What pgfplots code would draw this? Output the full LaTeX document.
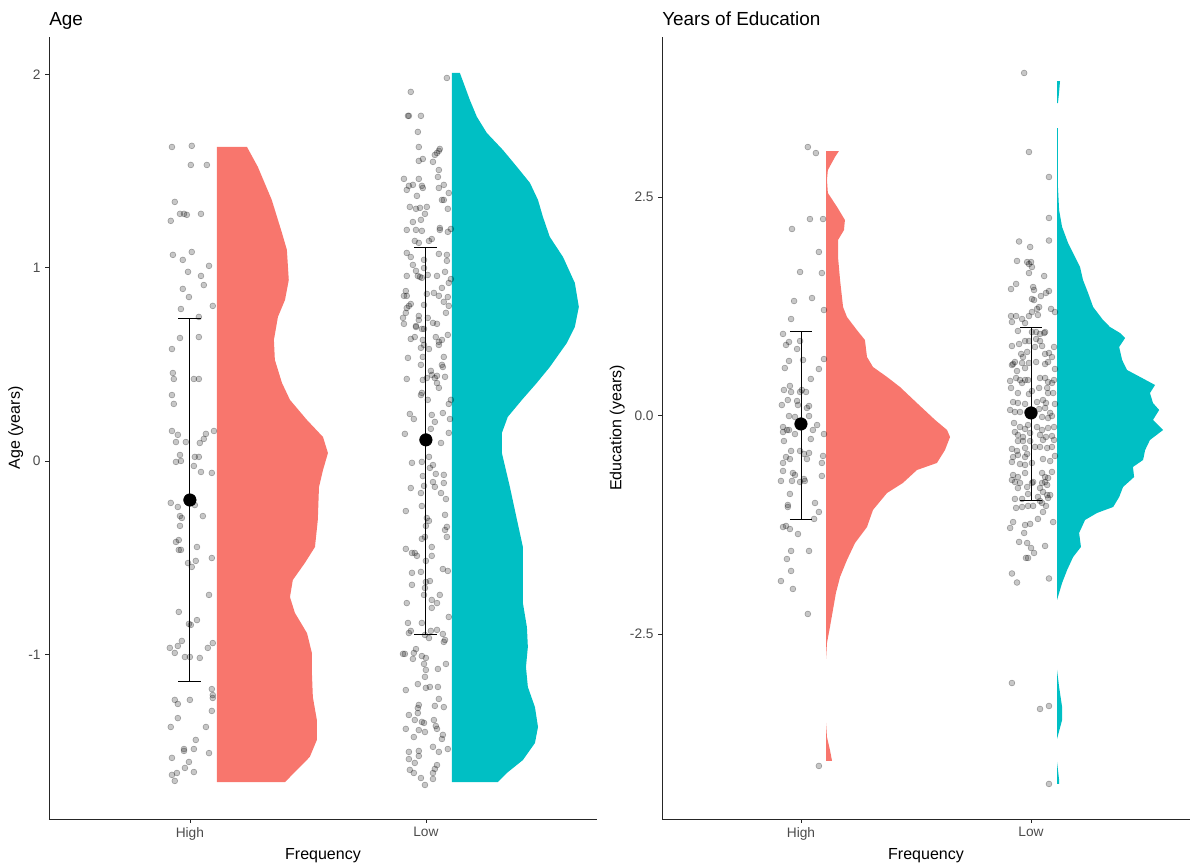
\documentclass[border=0pt]{standalone}
\usepackage{fontspec}
\setmainfont{Liberation Sans}
\usepackage{pgfplots}
\pgfplotsset{compat=1.18}
\definecolor{vred}{HTML}{F8766D}
\definecolor{vcyan}{HTML}{00BFC4}
\pgfplotsset{
  rainstyle/.style={
    scale only axis,
    anchor=south west,
    axis x line*=bottom, axis y line*=left,
    axis line style={-, black!85, line width=0.6pt},
    tick align=outside,
    major tick length=2.75pt,
    tick style={black!85, line width=0.5pt},
    ticklabel style={font=\fontsize{10.3}{11}\selectfont, text=black!70},
    label style={font=\fontsize{12}{14}\selectfont},
    ylabel style={yshift=-3pt},
    xlabel style={yshift=1pt},
    title style={at={(0,1)}, anchor=base west, yshift=2.5pt, inner sep=0pt, font=\fontsize{14.2}{16}\selectfont},
    xtick={1,2}, xticklabels={High,Low},
    xlabel={Frequency},
    clip=false,
  },
  jit/.style={only marks, mark=*, mark size=2.2pt,
    mark options={draw=black, fill=black, draw opacity=0.3, fill opacity=0.22, line width=0.45pt}},
  eb/.style={black, line width=0.65pt, mark=none},
}
\begin{document}
\begin{tikzpicture}
\path[use as bounding box] (0,0) rectangle (894pt,647.25pt);
% ---------------- Left: Age ----------------
\begin{axis}[rainstyle,
  at={(36.75pt,33pt)}, width=411pt, height=586.5pt,
  xmin=0.403, xmax=2.725, ymin=-1.852, ymax=2.193,
  ytick={-1,0,1,2}, yticklabels={-1,0,1,2},
  ylabel={Age (years)}, title={Age}]
\addplot[fill=vred, draw=none] coordinates {
(1.114,1.624) (1.242,1.624) (1.288,1.521) (1.347,1.350) (1.390,1.180) (1.411,1.092) (1.419,0.936) (1.403,0.833) (1.373,0.745) (1.356,0.626) (1.360,0.523) (1.390,0.404) (1.424,0.316) (1.496,0.212) (1.564,0.124) (1.585,0.041) (1.564,-0.047) (1.547,-0.135) (1.542,-0.305) (1.530,-0.445) (1.487,-0.528) (1.436,-0.616) (1.424,-0.704) (1.445,-0.786) (1.496,-0.890) (1.517,-0.993) (1.517,-1.097) (1.521,-1.221) (1.538,-1.340) (1.538,-1.443) (1.508,-1.531) (1.453,-1.599) (1.403,-1.661) (1.114,-1.661)} -- cycle;
\addplot[fill=vcyan, draw=none] coordinates {
(2.110,2.007) (2.144,2.007) (2.186,1.868) (2.216,1.780) (2.258,1.697) (2.326,1.609) (2.386,1.521) (2.441,1.438) (2.475,1.350) (2.496,1.262) (2.525,1.159) (2.581,1.055) (2.631,0.921) (2.648,0.797) (2.631,0.693) (2.597,0.610) (2.525,0.486) (2.470,0.404) (2.407,0.316) (2.347,0.228) (2.322,0.145) (2.322,0.041) (2.356,-0.135) (2.386,-0.305) (2.411,-0.445) (2.411,-0.564) (2.411,-0.735) (2.428,-0.859) (2.432,-0.962) (2.424,-1.066) (2.432,-1.169) (2.462,-1.273) (2.475,-1.376) (2.462,-1.459) (2.411,-1.547) (2.343,-1.614) (2.305,-1.661) (2.110,-1.661)} -- cycle;
% jittered points High
\addplot[jit] table[row sep=\\] {x y\\
0.924 1.624\\ 1.008 1.630\\ 1.004 1.531\\ 1.072 1.531\\ 0.936 1.340\\ 0.958 1.278\\ 0.975 1.278\\ 0.987 1.273\\ 1.047 1.278\\ 0.919 1.242\\
0.928 1.066\\ 1.008 1.081\\ 0.970 1.040\\ 1.081 1.009\\ 0.992 0.978\\ 1.047 0.957\\ 1.059 0.910\\ 0.970 0.890\\ 0.996 0.848\\ 1.097 0.802\\
0.962 0.786\\ 1.038 0.745\\ 0.958 0.636\\ 1.038 0.641\\ 0.924 0.579\\ 0.928 0.455\\ 0.932 0.424\\ 1.017 0.424\\ 1.038 0.424\\ 0.924 0.341\\
0.932 0.295\\ 0.924 0.155\\ 0.949 0.135\\ 1.102 0.155\\ 1.068 0.140\\ 0.941 0.098\\ 0.983 0.098\\ 1.042 0.093\\ 1.059 0.114\\ 0.958 0.031\\
0.941 -0.005\\ 0.962 0.000\\ 1.021 0.021\\ 1.038 0.021\\ 1.017 -0.026\\ 1.047 -0.057\\ 1.093 -0.062\\ 0.919 -0.217\\ 0.949 -0.238\\ 1.021 -0.228\\
0.958 -0.285\\ 0.966 -0.295\\ 1.055 -0.285\\ 0.958 -0.336\\ 0.953 -0.409\\ 0.941 -0.419\\ 0.953 -0.460\\ 0.962 -0.460\\ 1.030 -0.445\\ 1.093 -0.502\\
0.992 -0.528\\ 1.008 -0.548\\ 1.025 -0.517\\ 1.081 -0.693\\ 0.953 -0.781\\ 0.996 -0.843\\ 1.004 -0.848\\ 1.030 -0.823\\ 0.915 -0.967\\ 0.936 -0.993\\
0.949 -0.957\\ 0.966 -0.931\\ 0.979 -1.014\\ 1.000 -1.014\\ 1.042 -1.019\\ 1.076 -0.967\\ 1.097 -0.942\\ 1.093 -1.180\\ 1.097 -1.211\\ 1.097 -1.226\\
0.936 -1.236\\ 0.949 -1.257\\ 1.000 -1.236\\ 1.093 -1.293\\ 0.949 -1.330\\ 0.919 -1.376\\ 1.068 -1.376\\ 1.025 -1.443\\ 0.975 -1.490\\ 0.975 -1.500\\
1.017 -1.490\\ 1.081 -1.511\\ 0.924 -1.536\\ 0.996 -1.557\\ 0.979 -1.588\\ 1.017 -1.609\\ 0.945 -1.614\\ 0.924 -1.624\\ 0.936 -1.655\\
};
% jittered points Low
\addplot[jit] table[row sep=\\] {x y\\
2.089 1.981\\ 1.936 1.909\\ 1.924 1.785\\ 1.928 1.785\\ 1.979 1.785\\ 1.966 1.702\\ 1.970 1.624\\ 2.059 1.614\\ 2.055 1.604\\ 2.047 1.593\\
2.038 1.583\\ 1.987 1.562\\ 1.970 1.552\\ 2.030 1.547\\ 2.055 1.505\\ 2.051 1.469\\ 1.907 1.459\\ 1.970 1.459\\ 1.928 1.423\\ 1.919 1.402\\
1.945 1.428\\ 1.983 1.423\\ 1.987 1.412\\ 2.055 1.412\\ 2.076 1.428\\ 1.962 1.371\\ 2.097 1.386\\ 2.068 1.350\\ 2.076 1.350\\ 1.932 1.314\\
1.958 1.304\\ 1.975 1.309\\ 2.004 1.314\\ 2.093 1.304\\ 1.996 1.278\\ 1.945 1.236\\ 1.979 1.247\\ 1.919 1.195\\ 1.958 1.195\\ 1.983 1.190\\
2.059 1.205\\ 2.059 1.195\\ 2.093 1.185\\ 2.106 1.200\\ 1.953 1.138\\ 1.970 1.128\\ 2.013 1.138\\ 2.025 1.148\\ 1.919 1.076\\ 1.936 1.055\\
1.992 1.040\\ 2.055 1.071\\ 2.089 1.066\\ 2.089 1.035\\ 1.945 1.014\\ 1.958 0.983\\ 1.966 0.957\\ 1.975 0.952\\ 1.983 0.947\\ 1.992 0.998\\
1.919 0.957\\ 2.008 0.962\\ 2.047 0.957\\ 2.081 0.978\\ 2.106 0.941\\ 2.097 0.921\\ 2.068 0.895\\ 1.915 0.879\\ 1.907 0.854\\ 1.919 0.854\\
2.004 0.864\\ 2.034 0.869\\ 2.055 0.854\\ 2.093 0.848\\ 1.936 0.812\\ 1.928 0.802\\ 1.919 0.791\\ 1.992 0.807\\ 2.076 0.823\\ 2.097 0.802\\
1.915 0.766\\ 1.903 0.740\\ 1.907 0.709\\ 1.970 0.750\\ 1.970 0.729\\ 2.008 0.740\\ 2.085 0.766\\ 1.958 0.698\\ 1.958 0.693\\ 1.983 0.683\\
1.992 0.683\\ 2.030 0.714\\ 2.047 0.709\\ 2.093 0.652\\ 1.936 0.631\\ 1.953 0.641\\ 1.987 0.626\\ 1.979 0.585\\ 2.042 0.641\\ 2.055 0.616\\
2.055 0.600\\ 2.068 0.626\\ 1.992 0.600\\ 2.013 0.579\\ 1.924 0.533\\ 1.987 0.538\\ 2.076 0.538\\ 2.068 0.497\\ 2.072 0.486\\ 1.979 0.497\\
2.021 0.466\\ 2.025 0.445\\ 2.004 0.429\\ 2.038 0.429\\ 2.047 0.440\\ 1.987 0.419\\ 2.047 0.403\\ 2.055 0.378\\ 2.081 0.435\\ 1.919 0.424\\
1.983 0.352\\ 1.979 0.341\\ 2.008 0.316\\ 2.106 0.316\\ 2.097 0.295\\ 1.932 0.243\\ 1.949 0.217\\ 2.025 0.238\\ 2.038 0.202\\ 2.072 0.248\\
2.102 0.217\\ 2.021 0.166\\ 1.911 0.140\\ 2.097 0.145\\ 2.064 0.093\\ 1.941 -0.010\\ 1.983 -0.005\\ 2.013 0.021\\ 2.030 -0.021\\ 2.017 -0.036\\
2.042 -0.067\\ 2.076 -0.072\\ 1.987 -0.078\\ 1.936 -0.140\\ 1.992 -0.129\\ 2.030 -0.109\\ 2.038 -0.134\\ 2.076 -0.114\\ 1.979 -0.166\\ 2.064 -0.166\\
2.085 -0.197\\ 1.983 -0.233\\ 1.915 -0.259\\ 2.081 -0.279\\ 2.004 -0.295\\ 2.013 -0.310\\ 2.000 -0.336\\ 2.089 -0.341\\ 2.081 -0.357\\ 1.996 -0.393\\
1.983 -0.403\\ 2.089 -0.393\\ 1.915 -0.455\\ 2.025 -0.445\\ 1.941 -0.476\\ 1.953 -0.476\\ 1.962 -0.491\\ 2.025 -0.491\\ 2.000 -0.517\\ 2.072 -0.559\\
2.093 -0.569\\ 1.941 -0.579\\ 1.979 -0.574\\ 1.941 -0.641\\ 2.000 -0.626\\ 2.017 -0.621\\ 1.996 -0.657\\ 2.059 -0.693\\ 1.992 -0.693\\ 1.919 -0.735\\
2.025 -0.719\\ 2.025 -0.760\\ 2.047 -0.735\\ 2.097 -0.807\\ 1.924 -0.838\\ 1.983 -0.838\\ 1.936 -0.879\\ 1.928 -0.890\\ 2.021 -0.879\\ 2.047 -0.874\\
1.996 -0.900\\ 2.013 -0.916\\ 2.072 -0.895\\ 2.076 -0.936\\ 2.081 -0.926\\ 1.958 -0.973\\ 1.949 -0.993\\ 1.945 -1.024\\ 1.903 -0.998\\ 1.911 -0.998\\
1.983 -1.009\\ 2.000 -1.019\\ 2.085 -1.050\\ 1.992 -1.050\\ 2.000 -1.081\\ 2.051 -1.076\\ 1.996 -1.117\\ 1.966 -1.154\\ 2.000 -1.174\\ 2.017 -1.169\\
2.051 -1.169\\ 1.915 -1.185\\ 2.055 -1.231\\ 1.970 -1.262\\ 1.966 -1.278\\ 1.966 -1.304\\ 2.038 -1.267\\ 2.076 -1.273\\ 1.928 -1.314\\ 1.953 -1.340\\
1.983 -1.350\\ 1.992 -1.355\\ 2.034 -1.340\\ 2.042 -1.371\\ 2.047 -1.386\\ 1.915 -1.386\\ 1.970 -1.392\\ 1.996 -1.402\\ 2.072 -1.417\\ 2.068 -1.438\\
1.949 -1.428\\ 2.030 -1.479\\ 1.970 -1.500\\ 1.970 -1.526\\ 2.055 -1.505\\ 2.093 -1.490\\ 1.928 -1.505\\ 1.928 -1.542\\ 1.953 -1.562\\ 2.047 -1.573\\
2.038 -1.593\\ 2.030 -1.614\\ 1.932 -1.598\\ 1.949 -1.614\\ 1.979 -1.640\\ 2.030 -1.645\\ 1.996 -1.676\\
};
% error bars
\addplot[eb] coordinates {(1,-1.143) (1,0.735)};
\addplot[eb] coordinates {(0.951,0.735) (1.049,0.735)};
\addplot[eb] coordinates {(0.951,-1.143) (1.049,-1.143)};
\addplot[eb] coordinates {(2,-0.895) (2,1.107)};
\addplot[eb] coordinates {(1.951,1.107) (2.049,1.107)};
\addplot[eb] coordinates {(1.951,-0.895) (2.049,-0.895)};
\addplot[only marks, mark=*, mark size=4.7pt, black] coordinates {(1,-0.202) (2,0.109)};
\end{axis}
% ---------------- Right: Years of Education ----------------
\begin{axis}[rainstyle,
  at={(496.5pt,33pt)}, width=396pt, height=586.5pt,
  xmin=0.396, xmax=2.691, ymin=-4.617, ymax=4.331,
  ytick={-2.5,0,2.5}, yticklabels={-2.5,0.0,2.5},
  ylabel={Education (years)}, title={Years of Education}]
\addplot[fill=vred, draw=none] coordinates {
(1.109,3.026) (1.165,3.026) (1.148,2.958) (1.117,2.809) (1.113,2.695) (1.117,2.546) (1.157,2.386) (1.191,2.237) (1.187,2.122) (1.161,2.008) (1.161,1.814) (1.170,1.550) (1.183,1.241) (1.200,1.127) (1.243,0.978) (1.278,0.864) (1.287,0.670) (1.313,0.555) (1.374,0.441) (1.430,0.327) (1.504,0.143) (1.583,-0.051) (1.635,-0.166) (1.648,-0.246) (1.626,-0.395) (1.591,-0.543) (1.504,-0.624) (1.443,-0.772) (1.374,-0.887) (1.313,-1.081) (1.287,-1.276) (1.235,-1.459) (1.200,-1.653) (1.170,-1.847) (1.152,-2.030) (1.139,-2.225) (1.126,-2.420) (1.113,-2.603) (1.109,-2.786)} -- cycle;
\addplot[fill=vred, draw=none] coordinates {
(1.109,-3.518) (1.113,-3.678) (1.126,-3.827) (1.135,-3.953) (1.109,-3.953)} -- cycle;
\addplot[fill=vcyan, draw=none] coordinates {
(2.113,3.827) (2.126,3.827) (2.122,3.700) (2.117,3.575) (2.113,3.575)} -- cycle;
\addplot[fill=vcyan, draw=none] coordinates {
(2.113,3.289) (2.117,3.289) (2.117,3.072) (2.117,2.614) (2.122,2.351) (2.135,2.157) (2.161,1.974) (2.191,1.814) (2.213,1.699) (2.226,1.550) (2.248,1.402) (2.270,1.241) (2.313,1.093) (2.343,1.013) (2.387,0.944) (2.409,0.887) (2.383,0.784) (2.396,0.635) (2.417,0.521) (2.474,0.441) (2.539,0.349) (2.517,0.257) (2.530,0.143) (2.557,0.063) (2.530,-0.051) (2.574,-0.166) (2.517,-0.280) (2.496,-0.395) (2.487,-0.509) (2.443,-0.589) (2.448,-0.704) (2.400,-0.818) (2.383,-0.933) (2.357,-1.047) (2.287,-1.115) (2.235,-1.195) (2.209,-1.344) (2.217,-1.504) (2.183,-1.619) (2.157,-1.767) (2.135,-1.916) (2.113,-2.111)} -- cycle;
\addplot[fill=vcyan, draw=none] coordinates {
(2.113,-2.912) (2.122,-3.106) (2.135,-3.335) (2.135,-3.484) (2.113,-3.701)} -- cycle;
\addplot[fill=vcyan, draw=none] coordinates {
(2.113,-3.964) (2.122,-4.170) (2.122,-4.216) (2.113,-4.216)} -- cycle;
% points High
\addplot[jit] table[row sep=\\] {x y\\
1.030 3.072\\ 1.065 3.003\\ 1.039 2.248\\ 1.096 2.248\\ 0.961 2.134\\ 1.078 1.871\\ 0.996 1.642\\ 1.091 1.630\\ 1.048 1.344\\ 0.970 1.310\\
1.100 1.207\\ 0.957 1.104\\ 0.922 0.933\\ 0.948 0.841\\ 0.935 0.807\\ 0.996 0.852\\ 0.983 0.761\\ 0.948 0.624\\ 1.009 0.635\\ 1.100 0.646\\
0.930 0.543\\ 1.078 0.532\\ 1.043 0.418\\ 0.926 0.292\\ 0.952 0.338\\ 0.957 0.269\\ 0.996 0.269\\ 1.004 0.292\\ 1.022 0.269\\ 0.917 0.120\\
0.943 0.177\\ 0.983 0.166\\ 0.987 0.120\\ 1.026 0.086\\ 1.035 0.109\\ 0.948 -0.006\\ 0.974 -0.017\\ 1.035 -0.006\\ 0.922 -0.132\\ 0.939 -0.166\\
0.948 -0.166\\ 0.922 -0.189\\ 0.974 -0.212\\ 1.052 -0.166\\ 1.070 -0.109\\ 1.100 -0.212\\ 0.926 -0.292\\ 1.043 -0.269\\ 0.957 -0.406\\ 0.996 -0.406\\
1.013 -0.440\\ 1.035 -0.429\\ 0.935 -0.475\\ 0.952 -0.498\\ 1.096 -0.463\\ 0.922 -0.543\\ 1.026 -0.498\\ 1.091 -0.543\\ 0.922 -0.635\\ 0.965 -0.658\\
0.974 -0.681\\ 0.913 -0.749\\ 0.961 -0.749\\ 0.996 -0.761\\ 1.013 -0.727\\ 1.017 -0.749\\ 1.091 -0.692\\ 0.952 -0.898\\ 0.943 -1.024\\ 0.943 -1.047\\
1.061 -1.001\\ 1.078 -1.104\\ 1.057 -1.184\\ 0.922 -1.276\\ 0.935 -1.264\\ 0.952 -1.299\\ 0.987 -1.356\\ 0.957 -1.550\\ 1.035 -1.550\\ 0.939 -1.642\\
0.957 -1.779\\ 0.913 -1.894\\ 0.965 -1.985\\ 1.030 -2.271\\ 1.078 -4.010\\
};
% points Low
\addplot[jit] table[row sep=\\] {x y\\
1.970 3.919\\ 1.991 3.015\\ 2.078 2.729\\ 2.078 2.260\\ 1.948 1.991\\ 2.078 2.002\\ 1.996 1.928\\ 1.939 1.768\\ 1.983 1.756\\ 2.000 1.756\\
1.991 1.733\\ 2.004 1.699\\ 1.991 1.630\\ 2.057 1.596\\ 1.935 1.505\\ 1.913 1.447\\ 2.009 1.470\\ 2.013 1.436\\ 2.078 1.424\\ 2.065 1.402\\
2.043 1.367\\ 2.004 1.333\\ 2.013 1.321\\ 2.035 1.241\\ 2.026 1.219\\ 2.087 1.219\\ 2.104 1.184\\ 1.913 1.138\\ 1.935 1.138\\ 1.961 1.104\\
1.991 1.138\\ 2.004 1.184\\ 2.030 1.150\\ 1.917 1.070\\ 1.974 1.058\\ 1.943 0.967\\ 2.004 0.955\\ 2.022 0.955\\ 2.039 0.933\\ 2.057 0.944\\
2.061 0.955\\ 1.974 0.852\\ 1.991 0.852\\ 2.022 0.875\\ 2.039 0.852\\ 1.917 0.795\\ 1.948 0.818\\ 2.100 0.784\\ 2.017 0.784\\ 2.048 0.795\\
1.957 0.704\\ 1.983 0.727\\ 1.965 0.669\\ 2.061 0.704\\ 2.078 0.715\\ 2.091 0.669\\ 1.922 0.589\\ 1.930 0.612\\ 1.917 0.578\\ 1.961 0.601\\
1.991 0.601\\ 2.022 0.612\\ 2.061 0.589\\ 2.074 0.612\\ 2.104 0.532\\ 1.939 0.509\\ 1.974 0.543\\ 1.935 0.429\\ 1.952 0.406\\ 1.961 0.372\\
1.974 0.406\\ 1.987 0.406\\ 1.909 0.395\\ 2.039 0.429\\ 2.061 0.429\\ 2.074 0.383\\ 2.091 0.372\\ 2.100 0.406\\ 1.913 0.315\\ 2.004 0.280\\
2.035 0.315\\ 2.070 0.315\\ 1.943 0.257\\ 1.991 0.246\\ 2.074 0.257\\ 2.096 0.257\\ 1.922 0.154\\ 1.943 0.143\\ 1.974 0.132\\ 2.026 0.154\\
2.052 0.177\\ 2.065 0.143\\ 2.104 0.132\\ 1.909 0.063\\ 1.930 0.040\\ 1.952 0.040\\ 1.983 0.040\\ 2.035 0.074\\ 2.061 0.086\\ 2.083 0.029\\
2.048 -0.017\\ 2.074 -0.029\\ 2.091 -0.006\\ 1.926 -0.086\\ 1.952 -0.132\\ 1.974 -0.154\\ 1.987 -0.109\\ 2.026 -0.132\\ 2.048 -0.166\\ 2.074 -0.143\\
2.100 -0.132\\ 1.930 -0.189\\ 1.943 -0.223\\ 1.965 -0.246\\ 1.996 -0.200\\ 2.039 -0.223\\ 2.065 -0.246\\ 2.091 -0.235\\ 1.943 -0.292\\ 1.965 -0.292\\
1.996 -0.292\\ 2.052 -0.280\\ 2.100 -0.280\\ 1.917 -0.383\\ 1.939 -0.406\\ 1.974 -0.372\\ 2.017 -0.360\\ 2.039 -0.360\\ 2.070 -0.372\\ 2.091 -0.360\\
1.922 -0.475\\ 1.943 -0.452\\ 1.974 -0.475\\ 1.983 -0.440\\ 2.052 -0.498\\ 2.083 -0.521\\ 2.104 -0.463\\ 1.917 -0.532\\ 1.952 -0.555\\ 1.974 -0.566\\
2.004 -0.543\\ 2.091 -0.646\\ 1.922 -0.681\\ 1.943 -0.704\\ 1.974 -0.658\\ 2.048 -0.658\\ 2.061 -0.704\\ 2.074 -0.715\\ 1.917 -0.738\\ 1.930 -0.761\\
1.952 -0.772\\ 2.004 -0.772\\ 2.009 -0.761\\ 2.048 -0.772\\ 2.061 -0.761\\ 2.070 -0.795\\ 1.943 -0.830\\ 1.983 -0.818\\ 2.039 -0.830\\ 2.052 -0.875\\
2.070 -0.910\\ 1.987 -0.898\\ 1.930 -0.955\\ 1.961 -0.955\\ 2.083 -0.910\\ 2.074 -0.944\\ 2.030 -0.932\\ 2.039 -0.978\\ 2.048 -1.001\\ 2.065 -1.035\\
1.935 -1.058\\ 1.961 -1.047\\ 1.987 -1.035\\ 2.009 -1.035\\ 2.052 -1.104\\ 1.922 -1.219\\ 1.909 -1.287\\ 1.974 -1.253\\ 1.996 -1.241\\ 2.030 -1.184\\
2.096 -1.219\\ 1.970 -1.344\\ 1.948 -1.447\\ 1.983 -1.459\\ 2.000 -1.516\\ 2.013 -1.573\\ 2.061 -1.493\\ 1.978 -1.630\\ 1.987 -1.630\\ 1.917 -1.808\\
1.939 -1.911\\ 2.078 -1.865\\ 1.917 -3.061\\ 2.039 -3.358\\ 2.078 -3.324\\ 2.078 -4.216\\
};
\addplot[eb] coordinates {(1,-1.184) (1,0.967)};
\addplot[eb] coordinates {(0.952,0.967) (1.048,0.967)};
\addplot[eb] coordinates {(0.952,-1.184) (1.048,-1.184)};
\addplot[eb] coordinates {(2,-0.967) (2,1.013)};
\addplot[eb] coordinates {(1.952,1.013) (2.048,1.013)};
\addplot[eb] coordinates {(1.952,-0.967) (2.048,-0.967)};
\addplot[only marks, mark=*, mark size=4.7pt, black] coordinates {(1,-0.097) (2,0.029)};
\end{axis}
\end{tikzpicture}
\end{document}
